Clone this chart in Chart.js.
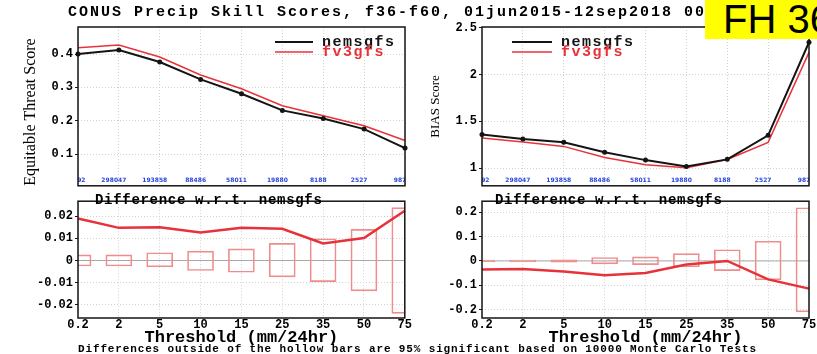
<!DOCTYPE html>
<html lang="en">
<head>
    <meta charset="UTF-8">
    <title>CONUS Precip Skill Scores</title>
    <script src="https://cdn.jsdelivr.net/npm/chart.js"></script>
    <style>
        body { margin: 0; background: #fff; }
        #page {
            position: relative;
            width: 817px;
            height: 354px;
            overflow: hidden;
            font-family: "Liberation Mono", monospace;
            font-weight: bold;
            color: #000;
        }
        canvas { position: absolute; }
        .txt { position: absolute; white-space: nowrap; }
        #title { left: 68px; top: 4px; font-size: 15px; line-height: 18px; letter-spacing: 2px; }
        .note { top: 192px; font-size: 14px; line-height: 16px; letter-spacing: 0.7px; }
        #foot { left: 78px; top: 343px; font-size: 11px; line-height: 13px; letter-spacing: 0.86px; }
        #fh {
            left: 705px; top: 0; width: 112px; height: 39px;
            background: #ffff00;
            font-family: "Liberation Sans", Arial, sans-serif;
            font-weight: normal;
            font-size: 40px;
            line-height: 39px;
            padding-left: 18px;
            box-sizing: border-box;
            overflow: hidden;
        }
    </style>
</head>
<body>
<div id="page">
    <canvas id="etsTop" width="412" height="195" style="left:0;top:0"></canvas>
    <canvas id="biasTop" width="407" height="195" style="left:410px;top:0"></canvas>
    <canvas id="etsDiffChart" width="412" height="156" style="left:0;top:192px"></canvas>
    <canvas id="biasDiffChart" width="407" height="156" style="left:410px;top:192px"></canvas>

    <div id="title" class="txt">CONUS Precip Skill Scores, f36-f60, 01jun2015-12sep2018 00Z</div>
    <div class="txt note" style="left:95px">Difference w.r.t. nemsgfs</div>
    <div class="txt note" style="left:495px">Difference w.r.t. nemsgfs</div>
    <div id="foot" class="txt">Differences outside of the hollow bars are 95% significant based on 10000 Monte Carlo Tests</div>
    <div id="fh" class="txt">FH 36</div>
</div>

<script>
    // thresholds (mm/24hr) and observed counts printed along the bottom of the score panels
    const thresholds = ['0.2', '2', '5', '10', '15', '25', '35', '50', '75'];
    const obsCounts = ['448892', '298047', '193858', '88486', '58011', '19880', '8188', '2527', '987'];

    // Equitable Threat Score
    const etsNems = [0.400, 0.412, 0.376, 0.324, 0.281, 0.231, 0.207, 0.175, 0.118];
    const etsFv3  = [0.419, 0.427, 0.391, 0.337, 0.296, 0.245, 0.215, 0.185, 0.141];
    const etsDiff = [0.0189, 0.0147, 0.0150, 0.0126, 0.0147, 0.0143, 0.0077, 0.0101, 0.0224];
    const etsBarLo = [-0.0025, -0.0025, -0.0028, -0.0045, -0.0053, -0.0074, -0.0095, -0.0137, -0.0238];
    const etsBarHi = [0.0025, 0.0025, 0.0035, 0.0042, 0.0052, 0.0077, 0.0098, 0.0140, 0.0238];

    // BIAS
    const biasNems = [1.358, 1.310, 1.275, 1.170, 1.085, 1.017, 1.093, 1.350, 2.347];
    const biasFv3  = [1.322, 1.278, 1.232, 1.112, 1.036, 1.003, 1.092, 1.275, 2.238];
    const biasDiff = [-0.035, -0.033, -0.044, -0.059, -0.050, -0.015, 0.000, -0.076, -0.114];
    const biasBarLo = [-0.004, -0.004, -0.005, -0.012, -0.015, -0.024, -0.040, -0.078, -0.210];
    const biasBarHi = [0.004, 0.004, 0.005, 0.014, 0.017, 0.030, 0.046, 0.081, 0.219];

    // y tick labels
    const etsTicks = [0.1, 0.2, 0.3, 0.4];
    const etsDiffTicks = [-0.02, -0.01, 0, 0.01, 0.02];
    const biasTicks = [1, 1.5, 2, 2.5];
    const biasDiffTicks = [-0.2, -0.1, 0, 0.1, 0.2];

    const BLACK = '#141414';
    const RED = '#e8323a';
    const BOX = '#f08c8c';
    const GRID = '#d2d2d2';
    const tickFont = { family: 'Liberation Mono', size: 12, weight: 'bold' };

    // box around each panel, plus a zero line in the difference panels
    const framePlugin = {
        id: 'frame',
        beforeDatasetsDraw(chart, args, opts) {
            if (!opts.zeroLine) return;
            const { ctx, chartArea: a } = chart;
            const y = chart.scales.y.getPixelForValue(0);
            ctx.save();
            ctx.strokeStyle = '#a8a8a8';
            ctx.lineWidth = 1;
            ctx.beginPath();
            ctx.moveTo(a.left, y);
            ctx.lineTo(a.right, y);
            ctx.stroke();
            ctx.restore();
        },
        afterDraw(chart) {
            const { ctx, chartArea: a } = chart;
            ctx.save();
            ctx.strokeStyle = BLACK;
            ctx.lineWidth = 1.5;
            ctx.strokeRect(a.left, a.top, a.right - a.left, a.bottom - a.top);
            ctx.restore();
        }
    };

    // small blue sample counts along the bottom of the score panels
    const countsPlugin = {
        id: 'counts',
        afterDatasetsDraw(chart, args, opts) {
            if (!opts.labels) return;
            const { ctx, chartArea: a } = chart;
            const x = chart.scales.x;
            ctx.save();
            ctx.beginPath();
            ctx.rect(a.left, a.top, a.right - a.left, a.bottom - a.top);
            ctx.clip();
            ctx.font = 'bold 6px "DejaVu Sans"';
            ctx.fillStyle = '#2846d8';
            ctx.textAlign = 'center';
            ctx.textBaseline = 'middle';
            opts.labels.forEach((t, i) => ctx.fillText(t, x.getPixelForValue(i) - 5, a.bottom - 5));
            ctx.restore();
        }
    };

    // legend drawn inside the plot box
    const keyPlugin = {
        id: 'key',
        afterDatasetsDraw(chart, args, opts) {
            if (opts.left === undefined) return;
            const { ctx, chartArea: a } = chart;
            ctx.save();
            ctx.font = 'bold 15px "Liberation Mono"';
            ctx.letterSpacing = '1.5px';
            ctx.textBaseline = 'middle';
            chart.data.datasets.forEach((ds, i) => {
                const y = a.top + 15 + i * 10;
                const x0 = a.left + opts.left;
                ctx.strokeStyle = ds.borderColor;
                ctx.lineWidth = ds.borderWidth;
                ctx.beginPath();
                ctx.moveTo(x0, y);
                ctx.lineTo(x0 + opts.len, y);
                ctx.stroke();
                ctx.fillStyle = ds.borderColor;
                ctx.fillText(ds.label, x0 + opts.len + 9, y);
            });
            ctx.restore();
        }
    };

    function panelOptions(o) {
        return {
            responsive: false,
            animation: false,
            layout: { padding: o.padding },
            plugins: {
                legend: { display: false },
                tooltip: { enabled: false },
                frame: { zeroLine: !!o.zero },
                counts: { labels: o.counts },
                key: o.key || {}
            },
            scales: {
                x: {
                    offset: false,
                    grid: { color: GRID, drawTicks: false, offset: false, borderDash: [1, 2] },
                    border: { display: false, dash: [1, 2] },
                    ticks: { display: !!o.xTitle, color: '#000', font: tickFont, padding: 0, maxRotation: 0, autoSkip: false },
                    title: {
                        display: !!o.xTitle,
                        text: o.xTitle || '',
                        color: '#000',
                        font: { family: 'Liberation Mono', size: 17, weight: 'bold' },
                        padding: 0
                    },
                    afterFit: s => { s.height = o.xHeight; }
                },
                y: {
                    min: o.min,
                    max: o.max,
                    afterBuildTicks: s => { s.ticks = o.ticks.map(v => ({ value: v })); },
                    grid: { color: GRID, tickLength: 3, tickColor: BLACK, tickBorderDash: [], borderDash: [1, 2] },
                    border: { display: false, dash: [1, 2] },
                    ticks: { color: '#000', font: tickFont, padding: 2, callback: v => String(+v.toFixed(3)) },
                    title: {
                        display: !!o.yTitle,
                        text: o.yTitle || '',
                        color: '#000',
                        align: o.yAlign || 'center',
                        font: { family: 'Liberation Serif', size: o.yTitleSize || 14 },
                        padding: { top: o.titlePad || 0, bottom: 0 }
                    },
                    afterFit: s => { s.width = o.yWidth; }
                }
            }
        };
    }

    function scoreData(nems, fv3) {
        return {
            labels: thresholds,
            datasets: [
                { label: 'nemsgfs', data: nems, borderColor: BLACK, borderWidth: 2, pointRadius: 2.5,
                  pointBackgroundColor: BLACK, pointBorderWidth: 0 },
                { label: 'fv3gfs', data: fv3, borderColor: RED, borderWidth: 1.5, pointRadius: 0 }
            ]
        };
    }

    function diffData(diff, lo, hi) {
        return {
            labels: thresholds,
            datasets: [
                { type: 'line', label: 'fv3gfs - nemsgfs', data: diff, borderColor: RED, borderWidth: 2.5,
                  pointRadius: 0, order: 0 },
                { type: 'bar', label: 'significance', data: lo.map((v, i) => [v, hi[i]]),
                  backgroundColor: 'rgba(0,0,0,0)', borderColor: BOX, borderWidth: 1,
                  borderSkipped: false, barThickness: 26, clip: 0, order: 1 }
            ]
        };
    }

    const plugins = [framePlugin, countsPlugin, keyPlugin];

    new Chart(document.getElementById('etsTop'), {
        type: 'line',
        data: scoreData(etsNems, etsFv3),
        options: panelOptions({
            padding: { top: 27, right: 7, bottom: 3, left: 0 },
            min: 0.005, max: 0.481, ticks: etsTicks,
            yTitle: 'Equitable Threat Score', yAlign: 'start', yTitleSize: 16, titlePad: 21, yWidth: 78, xHeight: 0,
            counts: obsCounts, key: { left: 197, len: 38 }
        }),
        plugins: plugins
    });

    new Chart(document.getElementById('biasTop'), {
        type: 'line',
        data: scoreData(biasNems, biasFv3),
        options: panelOptions({
            padding: { top: 27, right: 8, bottom: 3, left: 0 },
            min: 0.81, max: 2.51, ticks: biasTicks,
            yTitle: 'BIAS Score', yTitleSize: 13, titlePad: 18, yWidth: 72, xHeight: 0,
            counts: obsCounts, key: { left: 30, len: 40 }
        }),
        plugins: plugins
    });

    new Chart(document.getElementById('etsDiffChart'), {
        type: 'bar',
        data: diffData(etsDiff, etsBarLo, etsBarHi),
        options: panelOptions({
            padding: { top: 1, right: 7, bottom: 0, left: 0 },
            min: -0.0259, max: 0.0267, ticks: etsDiffTicks, zero: true,
            xTitle: 'Threshold (mm/24hr)', yWidth: 78, xHeight: 30
        }),
        plugins: plugins
    });

    new Chart(document.getElementById('biasDiffChart'), {
        type: 'bar',
        data: diffData(biasDiff, biasBarLo, biasBarHi),
        options: panelOptions({
            padding: { top: 1, right: 8, bottom: 0, left: 0 },
            min: -0.235, max: 0.246, ticks: biasDiffTicks, zero: true,
            xTitle: 'Threshold (mm/24hr)', yWidth: 72, xHeight: 30
        }),
        plugins: plugins
    });
</script>
</body>
</html>
